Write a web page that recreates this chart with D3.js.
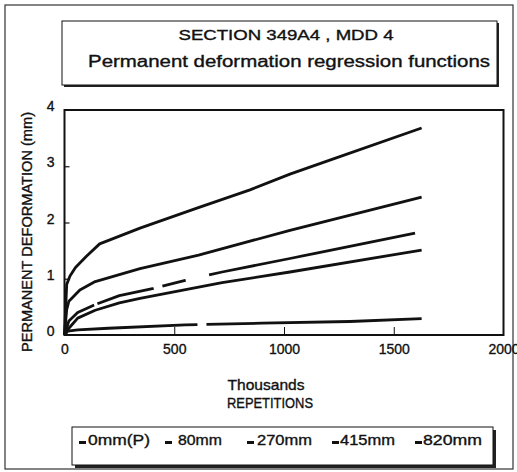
<!DOCTYPE html>
<html><head><meta charset="utf-8">
<script src="https://cdn.jsdelivr.net/npm/d3@7"></script>
<style>
html,body{margin:0;padding:0;background:#fff;}
svg{display:block;font-family:"Liberation Sans",Arial,sans-serif;}
svg text{stroke:#111;stroke-width:0.35px;}
</style></head>
<body><svg id="c" width="517" height="472"></svg>
<script>
// ---- data (x in thousands of repetitions, y in mm) ----
const titleLines = ["SECTION 349A4 , MDD 4", "Permanent deformation regression functions"];
const seriesNames = ["0mm(P)", "80mm", "270mm", "415mm", "820mm"];
const s0mm  = [[0,0],[10,0.9],[25,1.05],[50,1.2],[100,1.4],[160,1.62],[344,1.9],[600,2.25],[845,2.58],[1027,2.86],[1225,3.13],[1627,3.68]];
const s80mm = [[0,0],[10,0.45],[20,0.6],[70,0.8],[140,0.95],[344,1.18],[611,1.42],[1027,1.86],[1627,2.45]];
const s270mm= [[0,0],[20,0.25],[60,0.4],[133,0.53],[250,0.7],[406,0.83],[550,0.97],[718,1.12],[1027,1.36],[1597,1.81]];
const s415mm= [[0,0],[20,0.12],[60,0.3],[140,0.44],[250,0.57],[344,0.65],[718,0.93],[1027,1.12],[1627,1.51]];
const s820mm= [[0,0],[15,0.07],[60,0.09],[200,0.12],[550,0.18],[900,0.21],[1300,0.24],[1627,0.29]];
const gaps270 = [[133,148],[406,444],[550,657]];
const gaps820 = [[604,645]];
const xTicks = [0,500,1000,1500,2000];
const yTicks = [0,1,2,3,4];
const xTitle1 = "Thousands", xTitle2 = "REPETITIONS";
const yTitle = "PERMANENT DEFORMATION (mm)";

const svg = d3.select("#c");
const ink = "#111";
const x = d3.scaleLinear().domain([0,2000]).range([64.5,503.5]);
const y = d3.scaleLinear().domain([0,4]).range([335,110]);

// outer frame
svg.append("rect").attr("x",5).attr("y",5).attr("width",508).attr("height",464)
  .attr("fill","none").attr("stroke","#333").attr("stroke-width",1.2);

// title box with shadow
svg.append("rect").attr("x",64).attr("y",23).attr("width",435).attr("height",64).attr("fill","#222");
svg.append("rect").attr("x",62).attr("y",21).attr("width",435).attr("height",64)
  .attr("fill","#fff").attr("stroke",ink).attr("stroke-width",1);
svg.append("text").attr("x",286).attr("y",40).attr("text-anchor","middle")
  .attr("font-size",14.5).attr("fill",ink).attr("textLength",215).attr("lengthAdjust","spacingAndGlyphs").text(titleLines[0]);
svg.append("text").attr("x",289).attr("y",67).attr("text-anchor","middle")
  .attr("font-size",16).attr("fill",ink).attr("textLength",402).attr("lengthAdjust","spacingAndGlyphs").text(titleLines[1]);

// plot frame
svg.append("rect").attr("x",x(0)).attr("y",y(4)).attr("width",x(2000)-x(0)).attr("height",y(0)-y(4))
  .attr("fill","none").attr("stroke",ink).attr("stroke-width",2);

// axes via d3 (ticks inward)
const xAxis = svg.append("g").attr("transform",`translate(0,${y(0)})`)
  .call(d3.axisBottom(x).tickValues(xTicks).tickSize(-8).tickPadding(16).tickFormat(d3.format("d")));
xAxis.select(".domain").remove();
xAxis.selectAll(".tick line").attr("stroke",ink).attr("stroke-width",1)
  .attr("display",d=> (d===0||d===2000)?"none":null);
xAxis.selectAll("text").attr("font-size",14).attr("fill",ink).attr("font-family","Liberation Sans, Arial").attr("dy","0.2em");

const yAxis = svg.append("g").attr("transform",`translate(${x(0)},0)`)
  .call(d3.axisLeft(y).tickValues(yTicks).tickSize(-5).tickPadding(10).tickFormat(d3.format("d")));
yAxis.select(".domain").remove();
yAxis.selectAll(".tick line").attr("stroke",ink).attr("stroke-width",1.2)
  .attr("display",d=> (d===0||d===4)?"none":null);
yAxis.selectAll("text").attr("font-size",14).attr("fill",ink).attr("font-family","Liberation Sans, Arial").attr("dy","0.05em");

// axis titles
svg.append("text").attr("x",266).attr("y",390).attr("text-anchor","middle").attr("font-size",14.5)
  .attr("fill",ink).attr("textLength",77).attr("lengthAdjust","spacingAndGlyphs").text(xTitle1);
svg.append("text").attr("x",270).attr("y",408).attr("text-anchor","middle").attr("font-size",14.5)
  .attr("fill",ink).attr("textLength",86).attr("lengthAdjust","spacingAndGlyphs").text(xTitle2);
svg.append("text").attr("transform","translate(32,232) rotate(-90)").attr("text-anchor","middle")
  .attr("font-size",14).attr("fill",ink).attr("textLength",240).attr("lengthAdjust","spacingAndGlyphs").text(yTitle);

// curves
const line = d3.line().x(d=>x(d[0])).y(d=>y(d[1]));
const series = [s0mm, s80mm, s270mm, s415mm, s820mm];
const gaps = [null, null, gaps270, null, gaps820];
series.forEach((s,i)=>{
  const p = svg.append("path").datum(s).attr("d",line).attr("fill","none")
    .attr("stroke",ink).attr("stroke-width",2.8).attr("stroke-linejoin","round");
  if(gaps[i]){
    const node = p.node(), L = node.getTotalLength();
    const lenAt = xv => { const px = x(xv); let l=0; while(l<L && node.getPointAtLength(l).x < px) l+=0.5; return l; };
    const arr=[]; let prev=0;
    gaps[i].forEach(g=>{ const a=lenAt(g[0]), b=lenAt(g[1]); arr.push(a-prev, b-a); prev=b; });
    arr.push(L-prev+5, 0);
    p.attr("stroke-dasharray", arr.join(","));
  }
});

// legend
svg.append("rect").attr("x",75).attr("y",430).attr("width",421).attr("height",38).attr("fill","#222");
svg.append("rect").attr("x",72).attr("y",427).attr("width",421).attr("height",38)
  .attr("fill","#fff").attr("stroke",ink).attr("stroke-width",1);
const legSym = [79,165,247,332,415];
const legTxt = [88,178,257,340,423];
const legW = [62,44,55,55,59];
seriesNames.forEach((n,i)=>{
  svg.append("rect").attr("x",legSym[i]).attr("y",441).attr("width",7).attr("height",3).attr("fill",ink);
  svg.append("text").attr("x",legTxt[i]).attr("y",445).attr("font-size",14).attr("fill",ink)
    .attr("textLength",legW[i]).attr("lengthAdjust","spacingAndGlyphs").text(n);
});
</script></body></html>
